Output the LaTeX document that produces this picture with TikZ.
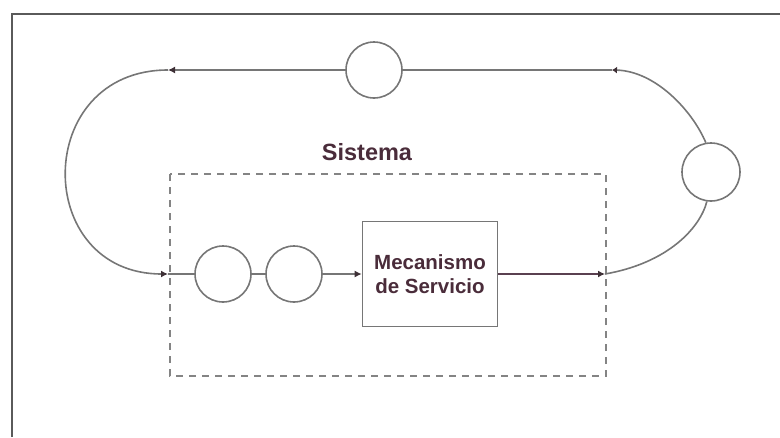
\documentclass[tikz,border=0pt]{standalone}
\usepackage{fontspec}
\setmainfont{Liberation Sans}
\usetikzlibrary{arrows.meta}
\definecolor{linegray}{HTML}{767676}
\definecolor{framegray}{HTML}{5A5A5A}
\definecolor{inkdark}{HTML}{4A2C3A}
\definecolor{flowdark}{HTML}{5A4050}
\definecolor{tipdark}{HTML}{3E3036}
\tikzset{
  conn/.style={draw=linegray, line width=1.6pt},
  tip/.style={-{Latex[length=7pt,width=7pt,color=tipdark]}},
  smalltip/.style={-{Latex[length=5pt,width=7pt,color=tipdark]}},
  unit/.style={circle, draw=linegray, line width=1.6pt, minimum size=56pt, inner sep=0pt},
  server/.style={rectangle, draw=linegray, line width=1.6pt, minimum width=135pt,
    minimum height=105pt, align=center, text=inkdark,
    font=\bfseries\fontsize{20.5}{23.5}\selectfont},
  boundary/.style={draw=linegray!90, line width=1.4pt, dash pattern=on 7pt off 6pt},
  frameline/.style={draw=framegray, line width=2.2pt}
}
\begin{document}
\begin{tikzpicture}[x=1pt,y=-1pt]
\useasboundingbox (0,0) rectangle (780,437);
% page frame (top and left edges)
\draw[frameline] (12,437) -- (12,14) -- (780,14);

% system boundary
\draw[boundary] (170,174) rectangle (606,376);
\node[text=inkdark, font=\bfseries\fontsize{23.5}{26}\selectfont] (title) at (367,152) {Sistema};

% queue units, server and the return loop
\node[unit] (ctop) at (374,70) {};
\node[unit, minimum size=58pt] (cright) at (711,172) {};
\node[unit] (q1) at (223,274) {};
\node[unit] (q2) at (294,274) {};
\node[server] (mech) at (430,274) {Mecanismo\\de Servicio};

\coordinate (tl) at (168,70);
\coordinate (tr) at (612,70);
\coordinate (bl) at (168,274);
\coordinate (br) at (605,274);

% return path: right unit -> top unit -> entrance
\draw[conn, smalltip] (cright.100) .. controls (692,110) and (655,71) .. (tr);
\draw[conn] (tr) -- (ctop.east);
\draw[conn, tip] (ctop.west) -- (tl);
\draw[conn, tip] (tl) .. controls (32,70) and (32,274) .. (bl);

% queue into the server
\draw[conn] (bl) -- (q1.west);
\draw[conn] (q1.east) -- (q2.west);
\draw[conn, tip] (q2.east) -- (mech.west);

% server output back to the right unit
\draw[draw=flowdark, line width=1.6pt, tip] (mech.east) -- (br);
\draw[conn] (br) .. controls (668,263) and (700,228) .. (cright.262);
\end{tikzpicture}
\end{document}
